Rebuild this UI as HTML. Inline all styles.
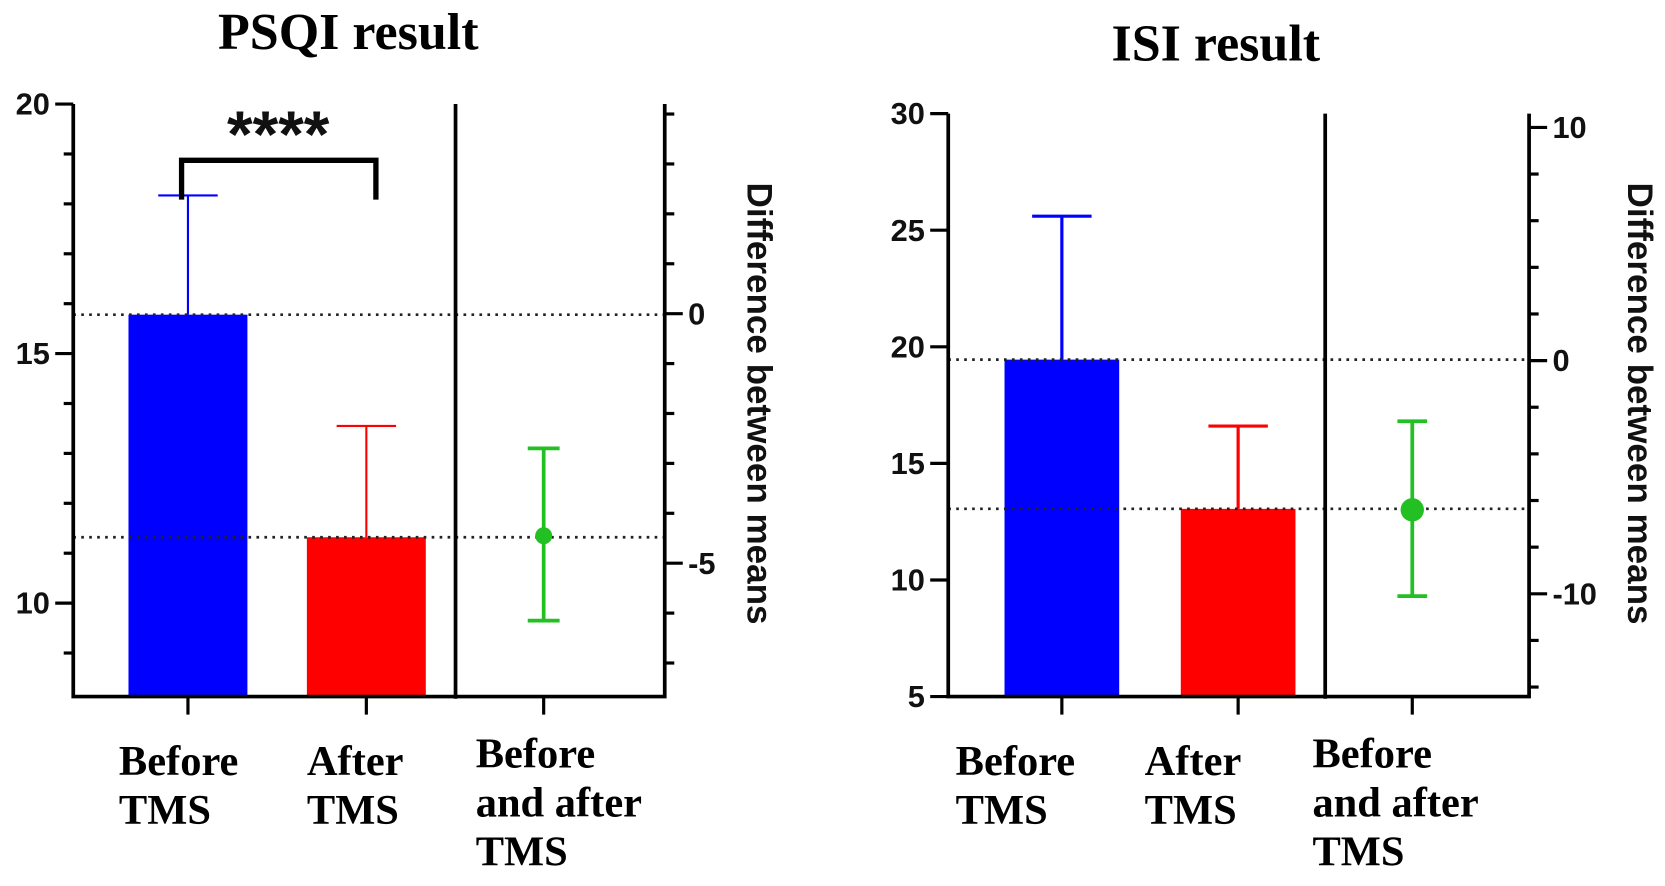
<!DOCTYPE html>
<html><head><meta charset="utf-8"><style>
html,body{margin:0;padding:0;background:#fff;}
svg{display:block;}
.tl{font-family:"Liberation Sans",sans-serif;font-weight:bold;font-size:29px;fill:#111;}
.cat{font-family:"Liberation Serif",serif;font-weight:bold;font-size:40px;fill:#000;}
.ttl{font-family:"Liberation Serif",serif;font-weight:bold;font-size:49px;fill:#000;}
</style></head><body>
<svg id="chart" width="1665" height="886" viewBox="0 0 1568 834.4" preserveAspectRatio="none" xmlns="http://www.w3.org/2000/svg">
<g id="left"></g>
<g id="right"></g>
</svg>
<script>
// PSQI data
const psqiCategories = ["Before TMS", "After TMS", "Before and after TMS"];
const psqiMeans = [15.78, 11.32];
const psqiErrTop = [18.17, 13.55];
const psqiDiff = [-4.45];
const psqiDiffHigh = [-2.7];
const psqiDiffLow = [-6.15];
const psqiLeftTicks = [10, 15, 20];
const psqiRightTicks = [-5, 0];
// ISI data
const isiCategories = ["Before TMS", "After TMS", "Before and after TMS"];
const isiMeans = [19.45, 13.05];
const isiErrTop = [25.6, 16.6];
const isiDiff = [-6.4];
const isiDiffHigh = [-2.6];
const isiDiffLow = [-10.1];
const isiLeftTicks = [5, 10, 15, 20, 25, 30];
const isiRightTicks = [-10, 0, 10];

const NS = "http://www.w3.org/2000/svg";
function mk(parent, tag, attrs, text){
  const e = document.createElementNS(NS, tag);
  for (const k in attrs) e.setAttribute(k, attrs[k]);
  if (text !== undefined) e.textContent = text;
  parent.appendChild(e);
  return e;
}

function panel(g, cfg){
  const y = v => cfg.top + (cfg.lmax - v) * cfg.ppu;
  const yr = v => y(cfg.lmax) + (cfg.rmax - v) * cfg.ppu;
  const bottom = cfg.bottom;
  let t = mk(g, "text", {x: cfg.titleX, y: cfg.titleY, "text-anchor": "middle", class: "ttl"}, cfg.title);
  
  
  const colors = ["#0000ff", "#ff0000"];
  cfg.means.forEach((m, i) => {
    const cx = cfg.cx[i];
    let b = mk(g, "rect", {x: cx - cfg.bw/2, y: y(m), width: cfg.bw, height: bottom - y(m), fill: colors[i]});
    
    
    let e = mk(g, "path", {d: `M${cx},${y(m)} V${y(cfg.err[i])} M${cx - cfg.cap},${y(cfg.err[i])} H${cx + cfg.cap}`, stroke: colors[i], "stroke-width": cfg.ew, fill: "none"});
    
    
  });
  [cfg.means[0], cfg.means[1]].forEach((m, i) => {
    let l = mk(g, "line", {x1: cfg.x0, x2: cfg.x1, y1: y(m), y2: y(m), stroke: "#222", "stroke-width": 2.5, "stroke-dasharray": "2.5 5"});
    
    
  });
  const gx = cfg.cx[2];
  let ge = mk(g, "path", {d: `M${gx},${yr(cfg.dHigh[0])} V${yr(cfg.dLow[0])} M${gx - cfg.gcap},${yr(cfg.dHigh[0])} H${gx + cfg.gcap} M${gx - cfg.gcap},${yr(cfg.dLow[0])} H${gx + cfg.gcap}`, stroke: "#22c022", "stroke-width": 3.5, fill: "none"});
  
  
  let gp = mk(g, "circle", {cx: gx, cy: yr(cfg.diff[0]), r: cfg.gr, fill: "#22c022"});
  
  
  let ax = mk(g, "path", {d: `M${cfg.x0},${cfg.top} V${bottom} H${cfg.x1} V${cfg.top} M${cfg.xd},${cfg.top} V${bottom + 2}`, stroke: "#000", "stroke-width": 3.5, fill: "none"});
  
  
  for (let v = Math.ceil(cfg.lmin); v <= cfg.lmax; v += cfg.lminor) {
    const major = cfg.leftTicks.includes(v);
    mk(g, "line", {x1: cfg.x0 - (major ? 17 : 9), x2: cfg.x0, y1: y(v), y2: y(v), stroke: "#000", "stroke-width": 3});
  }
  cfg.leftTicks.forEach(v => {
    let tx = mk(g, "text", {x: cfg.x0 - 22, y: y(v) + 10, "text-anchor": "end", class: "tl"}, String(v));
    
    
  });
  for (let v = cfg.rtop; v >= cfg.rbot; v -= cfg.rminor) {
    const major = cfg.rightTicks.includes(v);
    mk(g, "line", {x1: cfg.x1, x2: cfg.x1 + (major ? 17 : 9), y1: yr(v), y2: yr(v), stroke: "#000", "stroke-width": 3});
  }
  cfg.rightTicks.forEach(v => {
    let tx = mk(g, "text", {x: cfg.x1 + 22, y: yr(v) + 10, "text-anchor": "start", class: "tl"}, String(v));
    
    
  });
  cfg.cx.forEach(cx => mk(g, "line", {x1: cx, x2: cx, y1: bottom, y2: bottom + 17, stroke: "#000", "stroke-width": 3}));
  const lines = [["Before", "TMS"], ["After", "TMS"], ["Before", "and after", "TMS"]];
  lines.forEach((ls, i) => {
    let tx = mk(g, "text", {x: cfg.lx[i], y: i === 2 ? 723 : 730, class: "cat"});
    
    
    ls.forEach((s, j) => mk(tx, "tspan", {x: cfg.lx[i], dy: j === 0 ? 0 : 46}, s));
  });
  let rt = mk(g, "text", {x: 0, y: 0, "text-anchor": "middle", class: "tl", transform: `translate(${cfg.rtx},${cfg.rty}) rotate(90)`, style: "font-size:33px"}, "Difference between means");
  
  
}

const L = document.getElementById("left");
panel(L, {title: "PSQI result", titleX: 328, titleY: 46, top: 98, bottom: 656, lmax: 20, lmin: 8.2, ppu: 47, rmax: 4.2,
  x0: 69, x1: 626, xd: 429, cx: [177, 345, 512], bw: 112, cap: 28, ew: 2, gcap: 15, gr: 8,
  means: psqiMeans, err: psqiErrTop, diff: psqiDiff, dHigh: psqiDiffHigh, dLow: psqiDiffLow,
  leftTicks: psqiLeftTicks, lminor: 1, rightTicks: psqiRightTicks, rtop: 4, rbot: -7, rminor: 1,
  lx: [112, 289, 448], rtx: 704, rty: 380});
let br = mk(L, "path", {d: "M171,188 V151 H354 V188", stroke: "#000", "stroke-width": 5, fill: "none"});


let st = mk(L, "text", {x: 262, y: 148, "text-anchor": "middle", class: "tl", style: "font-size:62px"}, "****");



const R = document.getElementById("right");
panel(R, {title: "ISI result", titleX: 1145, titleY: 57, top: 107, bottom: 656, lmax: 30, lmin: 5, ppu: 21.96, rmax: 10 + 13/21.96,
  x0: 893, x1: 1440, xd: 1248, cx: [1000, 1166, 1330], bw: 108, cap: 28, ew: 3, gcap: 14, gr: 11,
  means: isiMeans, err: isiErrTop, diff: isiDiff, dHigh: isiDiffHigh, dLow: isiDiffLow,
  leftTicks: isiLeftTicks, lminor: 5, rightTicks: isiRightTicks, rtop: 10, rbot: -14, rminor: 2,
  lx: [900, 1078, 1236], rtx: 1533, rty: 380});
</script>
</body></html>
